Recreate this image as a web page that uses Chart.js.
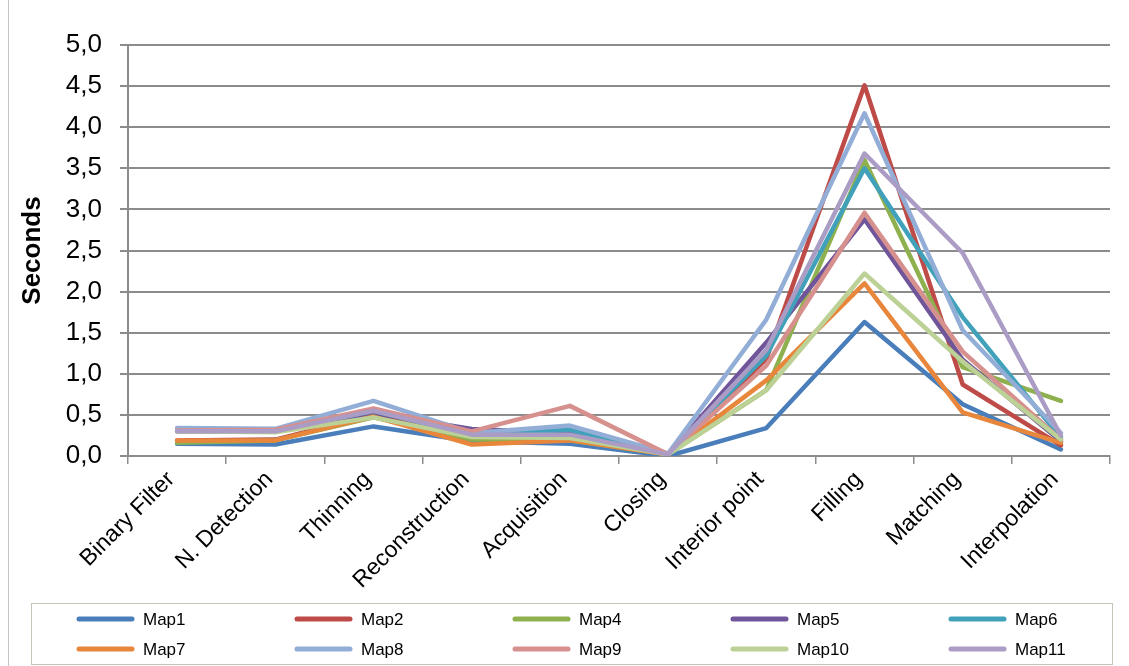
<!DOCTYPE html>
<html>
<head>
<meta charset="utf-8">
<script src="https://cdn.jsdelivr.net/npm/chart.js@4.4.1/dist/chart.umd.min.js"></script>
<style>
  html, body { margin: 0; padding: 0; background: #ffffff; }
  #wrap { width: 1129px; height: 666px; position: relative; }
</style>
</head>
<body>
<div id="wrap"><canvas id="c" width="1129" height="666"></canvas></div>
<script>
// Processing stages on the horizontal axis
const stages = ['Binary Filter', 'N. Detection', 'Thinning', 'Reconstruction', 'Acquisition',
                'Closing', 'Interior point', 'Filling', 'Matching', 'Interpolation'];

// Time in seconds spent in each stage, one array per map
const map1  = [0.15, 0.14, 0.36, 0.18, 0.15, 0.00, 0.34, 1.63, 0.63, 0.08];
const map2  = [0.19, 0.20, 0.50, 0.22, 0.20, 0.02, 1.18, 4.51, 0.87, 0.13];
const map4  = [0.16, 0.19, 0.47, 0.20, 0.19, 0.02, 0.80, 3.60, 1.08, 0.67];
const map5  = [0.30, 0.30, 0.52, 0.33, 0.28, 0.02, 1.38, 2.88, 1.17, 0.18];
const map6  = [0.31, 0.30, 0.55, 0.25, 0.32, 0.02, 1.22, 3.50, 1.69, 0.22];
const map7  = [0.19, 0.19, 0.48, 0.14, 0.19, 0.02, 0.92, 2.10, 0.53, 0.16];
const map8  = [0.34, 0.33, 0.67, 0.28, 0.37, 0.03, 1.66, 4.17, 1.53, 0.28];
const map9  = [0.31, 0.32, 0.58, 0.30, 0.61, 0.02, 1.10, 2.96, 1.27, 0.20];
const map10 = [0.30, 0.29, 0.47, 0.23, 0.22, 0.02, 0.80, 2.22, 1.15, 0.20];
const map11 = [0.30, 0.30, 0.55, 0.26, 0.26, 0.02, 1.29, 3.68, 2.47, 0.25];

const seriesNames = ['Map1', 'Map2', 'Map4', 'Map5', 'Map6', 'Map7', 'Map8', 'Map9', 'Map10', 'Map11'];
const seriesData  = [map1, map2, map4, map5, map6, map7, map8, map9, map10, map11];
const seriesColors = ['#4A7EBB', '#BE4B48', '#8FB04E', '#70559A', '#41A1BA',
                      '#E8863C', '#93AED6', '#D6908E', '#BCD196', '#AA9CC4'];

// Y tick values
const yMin = 0, yMax = 5, yStep = 0.5;

const FONT = "'Liberation Sans', Arial, sans-serif";

const datasets = seriesNames.map((name, i) => ({
  label: name,
  data: seriesData[i],
  borderColor: seriesColors[i],
  backgroundColor: seriesColors[i],
  borderWidth: 4.5,
  pointRadius: 0,
  tension: 0,
  fill: false,
  borderJoinStyle: 'round',
  borderCapStyle: 'round',
  order: seriesNames.length - i   // later series drawn on top
}));

// Legend laid out as a 5 x 2 grid inside a framed box below the axis
const gridLegend = {
  id: 'gridLegend',
  afterDraw(chart) {
    const ctx = chart.ctx;
    ctx.save();
    // outer frame line on the left
    ctx.strokeStyle = '#C4C4C4';
    ctx.lineWidth = 1;
    ctx.beginPath();
    ctx.moveTo(8.5, 0);
    ctx.lineTo(8.5, 666);
    ctx.stroke();
    // legend box
    ctx.strokeStyle = '#C8C4B8';
    ctx.strokeRect(31.5, 603.5, 1081, 61);
    ctx.font = '17px ' + FONT;
    ctx.textBaseline = 'middle';
    ctx.textAlign = 'left';
    chart.data.datasets.forEach((ds, i) => {
      const col = i % 5, row = Math.floor(i / 5);
      const x = 79 + col * 218;
      const y = 619 + row * 30;
      ctx.strokeStyle = ds.borderColor;
      ctx.lineWidth = 5;
      ctx.lineCap = 'round';
      ctx.beginPath();
      ctx.moveTo(x, y);
      ctx.lineTo(x + 53, y);
      ctx.stroke();
      ctx.fillStyle = '#000000';
      ctx.fillText(ds.label, x + 64, y + 1);
    });
    ctx.restore();
  }
};

new Chart(document.getElementById('c'), {
  type: 'line',
  data: { labels: stages, datasets },
  plugins: [gridLegend],
  options: {
    responsive: false,
    animation: false,
    devicePixelRatio: 1,
    layout: { padding: { left: 8, right: 19, top: 45, bottom: 66 } },
    plugins: {
      legend: { display: false },
      tooltip: { enabled: false },
      title: { display: false }
    },
    scales: {
      x: {
        offset: true,
        grid: {
          offset: true,
          drawOnChartArea: false,
          drawTicks: true,
          tickLength: 8,
          color: '#8C8C8C',
          lineWidth: 1.5
        },
        border: { display: true, color: '#8C8C8C', width: 2 },
        ticks: {
          color: '#000000',
          font: { family: FONT, size: 23 },
          minRotation: 45,
          maxRotation: 45,
          autoSkip: false,
          padding: 2,
          labelOffset: -6
        },
        afterFit(scale) { scale.height = 144; }
      },
      y: {
        min: yMin,
        max: yMax,
        grid: {
          color: '#8C8C8C',
          lineWidth: 2,
          tickLength: 8,
          drawTicks: true
        },
        border: { display: true, color: '#8C8C8C', width: 2 },
        ticks: {
          stepSize: yStep,
          color: '#000000',
          font: { family: FONT, size: 26 },
          padding: 18,
          callback: v => v.toFixed(1).replace('.', ',')
        },
        title: {
          display: true,
          text: 'Seconds',
          color: '#000000',
          font: { family: FONT, size: 26, weight: 'bold' },
          padding: { top: 9, bottom: 0 }
        },
        afterFit(scale) { scale.width = 120; }
      }
    }
  }
});
</script>
</body>
</html>
